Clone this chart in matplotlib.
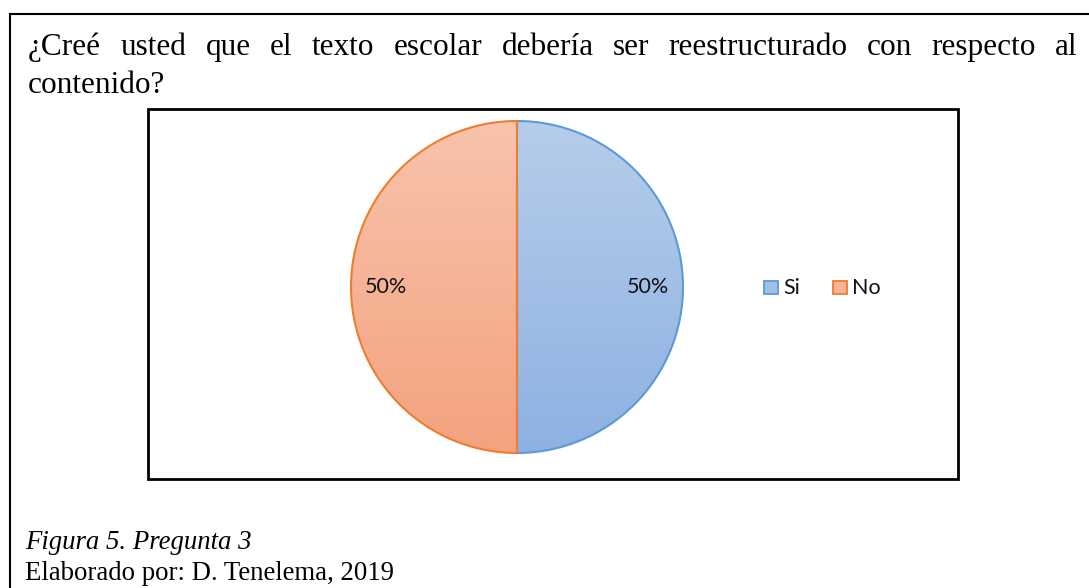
import matplotlib
matplotlib.use("Agg")
import matplotlib.pyplot as plt
import numpy as np
from matplotlib.patches import Rectangle
from matplotlib.colors import LinearSegmentedColormap

# datos
categorias = ["Si", "No"]
porcentajes = [50, 50]
pregunta = "¿Creé usted que el texto escolar debería ser reestructurado con respecto al"
pregunta2 = "contenido?"
figura_txt = "Figura 5. Pregunta 3"
autor_txt = "Elaborado por: D. Tenelema, 2019"

W, H = 1089, 588
fig = plt.figure(figsize=(W / 100, H / 100), dpi=100)
fig.patch.set_facecolor("white")

def fx(px):
    return px / W

def fy(py):
    return 1 - py / H

# marco exterior (solo izquierda y arriba visibles)
fig.add_artist(plt.Line2D([fx(9.5), fx(9.5)], [fy(14), 0], color="black", lw=1.5, transform=fig.transFigure))
fig.add_artist(plt.Line2D([fx(9.5), 1], [fy(14), fy(14)], color="black", lw=1.5, transform=fig.transFigure))

# pregunta justificada
serif = "Liberation Serif"
fsz = 22.5
renderer = fig.canvas.get_renderer()
palabras = pregunta.split()
textos = [fig.text(0, fy(55), p, fontsize=fsz, family=serif, va="baseline") for p in palabras]
anchos = [t.get_window_extent(renderer).width for t in textos]
x0, x1 = 28, 1078
hueco = (x1 - x0 - sum(anchos)) / (len(palabras) - 1)
x = x0
for t, w in zip(textos, anchos):
    t.set_x(fx(x))
    x += w + hueco
fig.text(fx(28), fy(93), pregunta2, fontsize=fsz, family=serif, va="baseline")

# pie de figura
fig.text(fx(25), fy(549), figura_txt, fontsize=19.3, family=serif, style="italic", va="baseline")
fig.text(fx(25), fy(580), autor_txt, fontsize=19.3, family=serif, va="baseline")

# recuadro del grafico
fig.add_artist(Rectangle((fx(148), fy(479)), fx(958 - 148), (479 - 109) / H,
                         fill=False, ec="black", lw=2, transform=fig.transFigure))

# pastel
cx, cy, r = 517, 287, 166
m = 1.05
ax = fig.add_axes([fx(cx - r * m), fy(cy + r * m), fx(2 * r * m), 2 * r * m / H])
wedges, _, autotexts = ax.pie(porcentajes, startangle=90, counterclock=False,
                              autopct="%1.0f%%", pctdistance=0.79,
                              colors=["none", "none"],
                              wedgeprops=dict(linewidth=1.5),
                              textprops=dict(fontsize=15.5, family="Lato", color="#111111"))
bordes = ["#5b9bd5", "#ed7d31"]
grad = [LinearSegmentedColormap.from_list("si", ["#8db1e2", "#b6cdea"]),
        LinearSegmentedColormap.from_list("no", ["#f4a27f", "#f8c3ac"])]
g = np.linspace(0, 1, 256).reshape(-1, 1)
for wdg, ec, cm in zip(wedges, bordes, grad):
    wdg.set_edgecolor(ec)
    wdg.set_zorder(3)
    im = ax.imshow(g, cmap=cm, extent=(-1, 1, -1, 1), origin="lower", aspect="auto", zorder=1)
    im.set_clip_path(wdg)
for t in autotexts:
    t.set_zorder(4)
ax.set_xlim(-m, m)
ax.set_ylim(-m, m)
ax.axis("off")

# leyenda
leg_x = [764, 833]
for xx, cat, ec, cm in zip(leg_x, categorias, bordes, grad):
    fig.add_artist(Rectangle((fx(xx), fy(294)), fx(14), 13 / H, fc=cm(0.5), ec=ec, lw=1.3,
                             transform=fig.transFigure))
    fig.text(fx(xx + 19), fy(288), cat, fontsize=15.5, family="Lato", va="center", color="#111111")

fig.savefig("out.png", dpi=100)
